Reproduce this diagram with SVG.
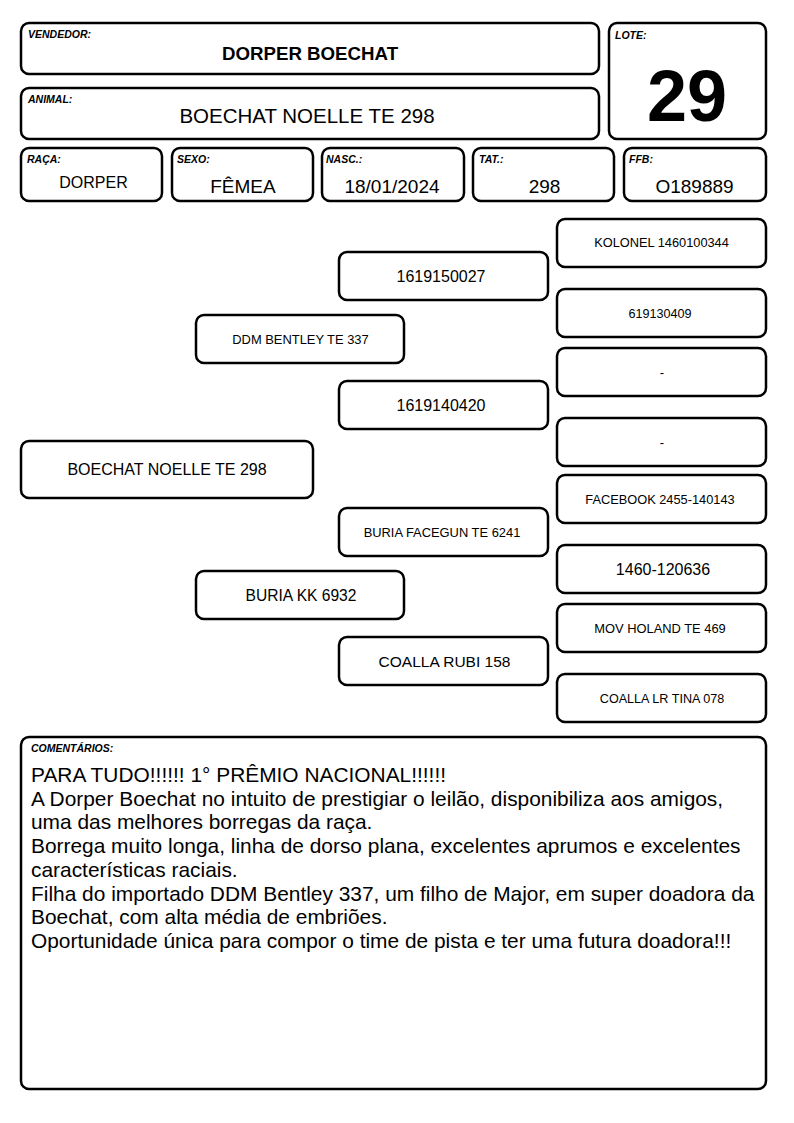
<svg xmlns="http://www.w3.org/2000/svg" width="794" height="1123" viewBox="0 0 794 1123">
<style>
.box{fill:#fff;stroke:#000;stroke-width:2.5}
.lbl{font-family:"Liberation Sans",Arial,sans-serif;font-size:10.5px;font-weight:bold;font-style:italic;fill:#000}
.t{font-family:"Liberation Sans",Arial,sans-serif;fill:#000;text-anchor:middle}
.c{font-family:"Liberation Sans",Arial,sans-serif;fill:#000;font-size:20.9px}
</style>
<rect width="794" height="1123" fill="#fff"/>
<g id="vendedor">
<rect class="box" x="21" y="23" width="578" height="51" rx="8"/>
<text class="lbl" x="28" y="38">VENDEDOR:</text>
<text class="t" x="310" y="60" font-size="18.7" font-weight="bold">DORPER BOECHAT</text>
</g>
<g id="animal">
<rect class="box" x="21" y="88" width="578" height="51" rx="8"/>
<text class="lbl" x="28" y="103">ANIMAL:</text>
<text class="t" x="307" y="123" font-size="20.5">BOECHAT NOELLE TE 298</text>
</g>
<g id="lote">
<rect class="box" x="609" y="23" width="157" height="116" rx="8"/>
<text class="lbl" x="615" y="39">LOTE:</text>
<text class="t" x="687" y="121" font-size="72" font-weight="bold">29</text>
</g>
<g id="raca">
<rect class="box" x="21" y="148" width="141" height="53" rx="8"/>
<text class="lbl" x="27" y="163">RAÇA:</text>
<text class="t" x="93.5" y="188" font-size="16">DORPER</text>
</g>
<g id="sexo">
<rect class="box" x="172" y="148" width="141" height="53" rx="8"/>
<text class="lbl" x="177" y="163">SEXO:</text>
<text class="t" x="243" y="193" font-size="19">FÊMEA</text>
</g>
<g id="nasc">
<rect class="box" x="322" y="148" width="142" height="53" rx="8"/>
<text class="lbl" x="326" y="163">NASC.:</text>
<text class="t" x="392" y="193" font-size="19">18/01/2024</text>
</g>
<g id="tat">
<rect class="box" x="473" y="148" width="141" height="53" rx="8"/>
<text class="lbl" x="479" y="163">TAT.:</text>
<text class="t" x="544.5" y="193" font-size="19">298</text>
</g>
<g id="ffb">
<rect class="box" x="624" y="148" width="142" height="53" rx="8"/>
<text class="lbl" x="629" y="163">FFB:</text>
<text class="t" x="694.5" y="193" font-size="19">O189889</text>
</g>
<g id="connectors"></g>
<g id="p-kolonel">
<rect class="box" x="557" y="219" width="209" height="48" rx="8"/>
<text class="t" x="661.5" y="247" font-size="12.8">KOLONEL 1460100344</text>
</g>
<g id="p-1619150027">
<rect class="box" x="339" y="252" width="209" height="48" rx="8"/>
<text class="t" x="441" y="282" font-size="16">1619150027</text>
</g>
<g id="p-619130409">
<rect class="box" x="557" y="289" width="209" height="48" rx="8"/>
<text class="t" x="660" y="317.5" font-size="12.6">619130409</text>
</g>
<g id="p-ddm">
<rect class="box" x="196" y="315" width="208" height="48" rx="8"/>
<text class="t" x="300.5" y="344" font-size="12.9">DDM BENTLEY TE 337</text>
</g>
<g id="p-dash1">
<rect class="box" x="557" y="348" width="209" height="48" rx="8"/>
<text class="t" x="662" y="377" font-size="13">-</text>
</g>
<g id="p-1619140420">
<rect class="box" x="339" y="381" width="209" height="48" rx="8"/>
<text class="t" x="441" y="411" font-size="16">1619140420</text>
</g>
<g id="p-dash2">
<rect class="box" x="557" y="418" width="209" height="48" rx="8"/>
<text class="t" x="662" y="447" font-size="13">-</text>
</g>
<g id="p-boechat">
<rect class="box" x="21" y="441" width="292" height="57" rx="8"/>
<text class="t" x="167" y="475" font-size="16">BOECHAT NOELLE TE 298</text>
</g>
<g id="p-facebook">
<rect class="box" x="557" y="475" width="209" height="48" rx="8"/>
<text class="t" x="660" y="503.5" font-size="12.8">FACEBOOK 2455-140143</text>
</g>
<g id="p-facegun">
<rect class="box" x="339" y="508" width="209" height="48" rx="8"/>
<text class="t" x="442" y="536.5" font-size="12.9">BURIA FACEGUN TE 6241</text>
</g>
<g id="p-1460">
<rect class="box" x="557" y="545" width="209" height="48" rx="8"/>
<text class="t" x="663" y="574.5" font-size="16">1460-120636</text>
</g>
<g id="p-buriakk">
<rect class="box" x="196" y="571" width="208" height="48" rx="8"/>
<text class="t" x="301" y="600.5" font-size="15.6">BURIA KK 6932</text>
</g>
<g id="p-holand">
<rect class="box" x="557" y="604" width="209" height="48" rx="8"/>
<text class="t" x="660" y="632.5" font-size="12.9">MOV HOLAND TE 469</text>
</g>
<g id="p-rubi">
<rect class="box" x="339" y="637" width="209" height="48" rx="8"/>
<text class="t" x="444.5" y="666.5" font-size="15.5">COALLA RUBI 158</text>
</g>
<g id="p-tina">
<rect class="box" x="557" y="674" width="209" height="48" rx="8"/>
<text class="t" x="662" y="702.5" font-size="12.6">COALLA LR TINA 078</text>
</g>
<g id="comentarios">
<rect class="box" x="21" y="737" width="745" height="352" rx="8"/>
<text class="lbl" x="31" y="752">COMENTÁRIOS:</text>
<text class="c" x="31" y="782">PARA TUDO!!!!!! 1° PRÊMIO NACIONAL!!!!!!</text>
<text class="c" x="31" y="805.7">A Dorper Boechat no intuito de prestigiar o leilão, disponibiliza aos amigos,</text>
<text class="c" x="31" y="829.4">uma das melhores borregas da raça.</text>
<text class="c" x="31" y="853.1">Borrega muito longa, linha de dorso plana, excelentes aprumos e excelentes</text>
<text class="c" x="31" y="876.8">características raciais.</text>
<text class="c" x="31" y="900.5">Filha do importado DDM Bentley 337, um filho de Major, em super doadora da</text>
<text class="c" x="31" y="924.2">Boechat, com alta média de embriões.</text>
<text class="c" x="31" y="947.9">Oportunidade única para compor o time de pista e ter uma futura doadora!!!</text>
</g>
</svg>
